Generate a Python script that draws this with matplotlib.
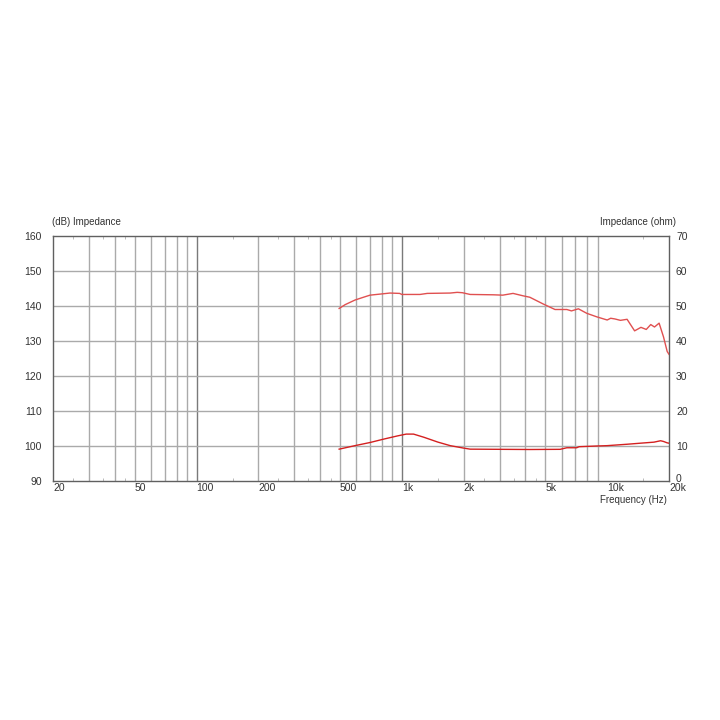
import numpy as np
import matplotlib
matplotlib.use("Agg")
import matplotlib.pyplot as plt
import matplotlib.transforms as mtrans
from matplotlib.ticker import FixedLocator, NullFormatter

plt.rcParams['font.family'] = ['Liberation Sans', 'DejaVu Sans']

# SPL (dB), left axis
spl_freq = [495, 530, 591, 650, 700, 783, 875, 975, 1000, 1226, 1330, 1720, 1860, 1970, 2150,
            2790, 3100, 3480, 3900, 4200, 4870, 5570, 6360, 6700, 7240, 7960, 8900, 10000,
            10400, 10900, 11600, 12500, 13600, 14600, 15500, 16300, 17000, 17900, 18800, 19600, 20000]
spl_db = [139.3, 140.4, 141.7, 142.5, 143.1, 143.4, 143.7, 143.6, 143.3, 143.3, 143.6, 143.7, 143.9,
          143.8, 143.3, 143.2, 143.1, 143.6, 142.9, 142.5, 140.6, 139.0, 139.0, 138.6, 139.2, 137.9,
          136.9, 136.0, 136.5, 136.3, 135.9, 136.2, 132.9, 133.9, 133.3, 134.7, 134.0, 135.1, 131.2,
          127.0, 126.2]

# Impedance (ohm), right axis
imp_freq = [495, 591, 700, 820, 955, 1050, 1140, 1280, 1500, 1720, 2000, 2150, 4200, 5900, 6360,
            7100, 7300, 8900, 10000, 12500, 14500, 16900, 18200, 18800, 19600, 20000]
imp_ohm = [9.1, 10.1, 11.0, 12.0, 12.9, 13.4, 13.4, 12.5, 11.1, 10.1, 9.4, 9.1, 9.0, 9.05, 9.5,
           9.5, 9.8, 10.0, 10.1, 10.5, 10.8, 11.1, 11.5, 11.3, 10.9, 10.8]

x_major = [20, 50, 100, 200, 500, 1000, 2000, 5000, 10000, 20000]
x_labels = ['20', '50', '100', '200', '500', '1k', '2k', '5k', '10k', '20k']
y_left = [90, 100, 110, 120, 130, 140, 150, 160]
y_right = [0, 10, 20, 30, 40, 50, 60, 70]

fig = plt.figure(figsize=(7.2, 7.2), dpi=100)
ax = fig.add_axes([53/720, 1 - 481/720, 616/720, 245/720])
ax.set_xscale('log')
ax.set_xlim(20, 20000)
ax.set_ylim(90, 160)

grid_col = '#aaaaaa'
dec_col = '#7a7a7a'
grid_lines = [f * m for m in (10, 100, 1000) for f in range(1, 10)] + [30, 40, 50, 60, 70, 80, 90]
for g in sorted(set(grid_lines)):
    if 20 < g < 20000:
        c = dec_col if g in (100, 1000, 10000) else grid_col
        ax.axvline(g, color=c, lw=1.0, zorder=1)
for yv in y_left[1:-1]:
    ax.axhline(yv, color=grid_col, lw=1.0, zorder=1)

# small minor ticks
minor = [25, 35, 45, 150, 250, 350, 450, 1500, 2500, 3500, 4500, 15000]
ax.xaxis.set_major_locator(FixedLocator(x_major))
ax.xaxis.set_minor_locator(FixedLocator(minor))
ax.xaxis.set_minor_formatter(NullFormatter())
ax.set_xticklabels(x_labels)
ax.tick_params(axis='x', which='major', length=0, pad=1.5, labelsize=7.5, labelcolor='#333333')
ax.tick_params(axis='x', which='minor', direction='in', length=2, color='#b0b0b0', top=True, bottom=True)
for lab in ax.get_xticklabels():
    lab.set_horizontalalignment('left')

ax.set_yticks(y_left)
ax.tick_params(axis='y', which='major', length=0, pad=8, labelsize=7.5, labelcolor='#333333')

for s in ax.spines.values():
    s.set_color('#606060')
    s.set_linewidth(1.0)

ax.plot(spl_freq, spl_db, color='#e05050', lw=1.0, zorder=3)

ax2 = ax.twinx()
ax2.set_ylim(0, 70)
ax2.set_yticks(y_right)
ax2.tick_params(axis='y', length=0, pad=5, labelsize=7.5, labelcolor='#333333')
for s in ax2.spines.values():
    s.set_visible(False)
ax2.plot(imp_freq, imp_ohm, color='#d42020', lw=1.0, zorder=3)

# nudge the "0" label up a little so it clears "20k"
fig.canvas.draw()
zero_lab = ax2.get_yticklabels()[0]
zero_lab.set_transform(zero_lab.get_transform() + mtrans.ScaledTranslation(0, 3/100, fig.dpi_scale_trans))

fig.text(52/720, 1 - 222/720, '(dB) Impedance', fontsize=7, color='#333333', ha='left', va='center')
fig.text(676/720, 1 - 222/720, 'Impedance (ohm)', fontsize=7, color='#333333', ha='right', va='center')
fig.text(667/720, 1 - 500/720, 'Frequency (Hz)', fontsize=7, color='#333333', ha='right', va='center')

fig.savefig('out.png', dpi=100, facecolor='white')
